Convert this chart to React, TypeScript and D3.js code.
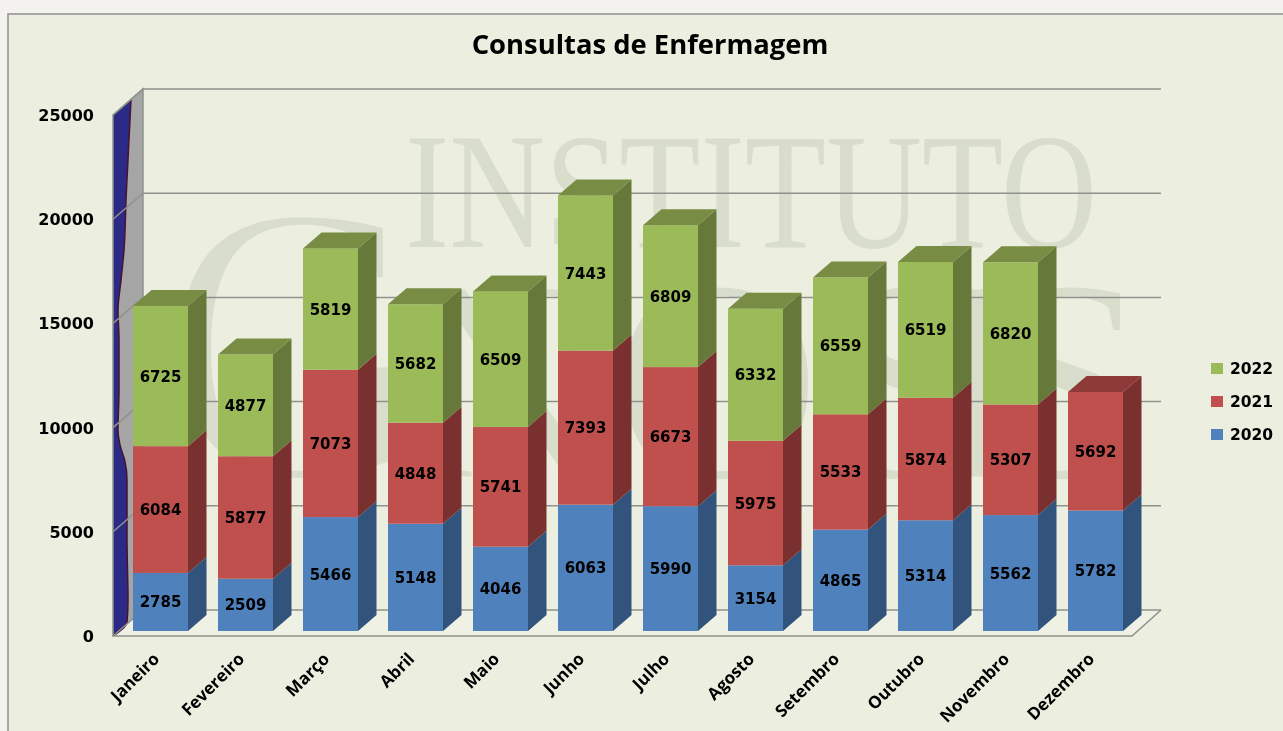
import React from "react";
import * as d3 from "d3";

const months = ["Janeiro","Fevereiro","Março","Abril","Maio","Junho","Julho","Agosto","Setembro","Outubro","Novembro","Dezembro"];
const years = ["2020","2021","2022"];
const v2020 = [2785,2509,5466,5148,4046,6063,5990,3154,4865,5314,5562,5782];
const v2021 = [6084,5877,7073,4848,5741,7393,6673,5975,5533,5874,5307,5692];
const v2022 = [6725,4877,5819,5682,6509,7443,6809,6332,6559,6519,6820,0];
const yTicks = [0,5000,10000,15000,20000,25000];
// irregular wall edge: [axis value, fraction of wall depth]
const wallEdge: [number, number][] = [[25000,.6],[20393,.433],[18065,.367],[16746,.267],[15435,.167],[13963,.2],[11564,.2],[9693,.167],[8877,.233],[7870,.4],[6910,.467],[4030,.467],[1104,.5],[96,.467],[0,0]];

const front = { 2020: "#4F81BD", 2021: "#C0504D", 2022: "#9BBB59" } as Record<string,string>;
const side = { 2020: "#32547C", 2021: "#7A302E", 2022: "#66783A" } as Record<string,string>;
const top = { 2020: "#3F6797", 2021: "#8D3A38", 2022: "#788D43" } as Record<string,string>;

const DX = 18.5, DY = 16, WALL_X = 30, WALL_Y = 26;
const FONT = "'DejaVu Sans', sans-serif";
const FONT2 = "'Open Sans', sans-serif";
const BG = "#ECEFDF", GRID = "#8F928C";

export default function App() {
  const x = d3.scaleBand<string>().domain(months).range([118, 1138]).paddingInner(30 / 85).paddingOuter(15 / 85);
  const yBar = d3.scaleLinear().domain([0, 25000]).range([631, 110]);
  const yFront = d3.scaleLinear().domain([0, 25000]).range([636, 115]);
  const X0 = 113, XR = 1132;
  const rows = months.map((m, i) => ({ m, 2020: v2020[i], 2021: v2021[i], 2022: v2022[i] }));
  const stack = d3.stack<any>().keys(years)(rows);
  const edge = wallEdge.map(([v, t]) => [X0 + t * WALL_X, yFront(v) - t * WALL_Y] as [number, number]);
  const edgePath = d3.line().curve(d3.curveMonotoneY)(edge)!;
  const bluePath = `M${X0},${yFront(25000)}L${edgePath.slice(1)}Z`;
  const pts = (p: number[][]) => p.map((q) => q.join(",")).join(" ");
  return (
    <svg width={1283} height={731} style={{ position: "fixed", left: 0, top: 0, background: "#F3F2EF" }}>
      <defs>
        <filter id="soft" x="-5%" y="-5%" width="110%" height="110%"><feGaussianBlur stdDeviation="0.35" /></filter>
      </defs>
      <rect x={8} y={14} width={1300} height={740} fill={BG} stroke="#8E8E8E" strokeWidth={1.5} />
      <g fill="#D9DDCC" fontFamily="'Liberation Serif', serif">
        <text x={405} y={247} fontSize={165} textLength={692} lengthAdjust="spacingAndGlyphs">INSTITUTO</text>
        <text transform="translate(162,478) scale(0.92,1)" fontSize={400} stroke={BG} strokeWidth={8}>G</text>
        <text x="400 612 825 928 988" y={478} fontSize={290} stroke={BG} strokeWidth={3}>NOSIS</text>
      </g>
      <polygon points={pts([[X0, yFront(0)], [X0 + WALL_X, yFront(0) - WALL_Y], [XR + 29, yFront(0) - WALL_Y], [XR, yFront(0)]])} fill="#EEF1E4" />
      <polygon points={pts([[X0, yFront(0)], [X0, yFront(25000)], [X0 + WALL_X, yFront(25000) - WALL_Y], [X0 + WALL_X, yFront(0) - WALL_Y]])} fill="#A5A5A5" />
      <path d={bluePath} fill="#2B2B87" />
      <path d={edgePath} fill="none" stroke="#4A1030" strokeWidth={1.5} />
      {yTicks.map((t) => (
        <polyline key={t} fill="none" stroke={GRID} strokeWidth={1.5}
          points={pts([[X0, yFront(t)], [X0 + WALL_X, yFront(t) - WALL_Y], [X0 + WALL_X + 1018, yFront(t) - WALL_Y]])} />
      ))}
      <polyline fill="none" stroke={GRID} strokeWidth={1.5} points={pts([[X0 + WALL_X + 1018, yFront(0) - WALL_Y], [XR, yFront(0)], [X0, yFront(0)], [X0, yFront(25000)], [X0 + WALL_X, yFront(25000) - WALL_Y], [X0 + WALL_X, yFront(0) - WALL_Y]])} />
      {months.map((m, i) => {
        const bx = x(m)!, w = x.bandwidth();
        const segs = stack.filter((s) => s[i][1] > s[i][0]);
        return (
          <g key={m}>
            {segs.map((s, k) => {
              const y0 = yBar(s[i][0]), y1 = yBar(s[i][1]);
              const isTop = k === segs.length - 1;
              return (
                <g key={s.key}>
                  <rect x={bx} y={y1} width={w} height={y0 - y1} fill={front[s.key]} />
                  <polygon fill={side[s.key]} points={pts([[bx + w, y0], [bx + w, y1], [bx + w + DX, y1 - DY], [bx + w + DX, y0 - DY]])} />
                  {isTop && <polygon fill={top[s.key]} points={pts([[bx, y1], [bx + DX, y1 - DY], [bx + w + DX, y1 - DY], [bx + w, y1]])} />}
                </g>
              );
            })}
          </g>
        );
      })}
      <g fontFamily={FONT} fontWeight={700} fill="#050505" filter="url(#soft)">
        {months.map((m, i) => stack.filter((s) => s[i][1] > s[i][0]).map((s) => (
          <text key={m + s.key} x={x(m)! + x.bandwidth() / 2} y={(yBar(s[i][0]) + yBar(s[i][1])) / 2 + 5.5} fontSize={15} textAnchor="middle">
            {s[i][1] - s[i][0]}
          </text>
        )))}
        {yTicks.map((t) => (
          <text key={t} x={94} y={yFront(t) + 6} fontSize={16} textAnchor="end">{t}</text>
        ))}
        {years.slice().reverse().map((yr, i) => (
          <g key={yr}>
            <rect x={1211} y={363 + i * 33} width={12} height={11} fill={front[yr]} />
            <text x={1230} y={374 + i * 33} fontSize={15.5}>{yr}</text>
          </g>
        ))}
      </g>
      <g fontFamily={FONT2} fontWeight={700} fill="#050505" filter="url(#soft)">
        <text x={650} y={54} fontSize={27.4} textAnchor="middle">Consultas de Enfermagem</text>
        {months.map((m) => (
          <text key={m} fontSize={17} textAnchor="end"
            transform={`translate(${x(m)! + x.bandwidth() / 2},${660}) rotate(-45)`}>{m}</text>
        ))}
      </g>
    </svg>
  );
}
